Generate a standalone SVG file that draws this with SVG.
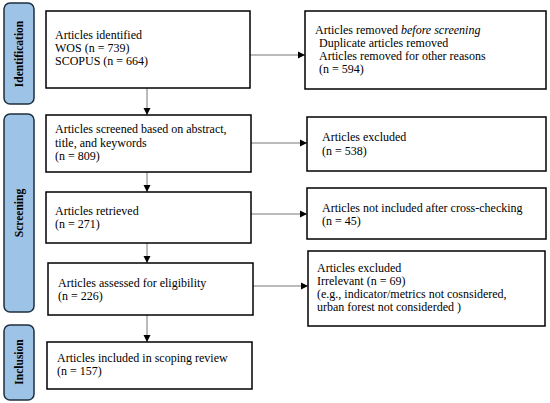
<svg xmlns="http://www.w3.org/2000/svg" width="550" height="403" viewBox="0 0 550 403">
<defs>
<style>
.box{fill:#fff;stroke:#000;stroke-width:1.5}
.side{fill:#9dc3e6;stroke:#1f2f3f;stroke-width:1.5}
.t{font-family:"Liberation Serif","DejaVu Serif",serif;font-size:12px;fill:#000}
.s{font-family:"Liberation Serif","DejaVu Serif",serif;font-size:11.5px;font-weight:bold;fill:#000}
.c{stroke:#777;stroke-width:1;fill:none;marker-end:url(#ah)}
</style>
<marker id="ah" markerWidth="8" markerHeight="8" refX="7" refY="4" orient="auto" markerUnits="userSpaceOnUse">
<path d="M0,0.5 L7,4 L0,7.5 Z" fill="#000"/>
</marker>
</defs>
<rect width="550" height="403" fill="#fff"/>
<g id="phase-identification">
<rect class="side" x="4" y="3" width="30" height="101" rx="6"/>
<text class="s" transform="translate(23,54) rotate(-90)" text-anchor="middle">Identification</text>
</g>
<g id="phase-screening">
<rect class="side" x="4" y="114" width="30" height="198" rx="6"/>
<text class="s" transform="translate(23,213) rotate(-90)" text-anchor="middle">Screening</text>
</g>
<g id="phase-inclusion">
<rect class="side" x="4" y="325" width="30" height="75" rx="6"/>
<text class="s" transform="translate(23,362) rotate(-90)" text-anchor="middle">Inclusion</text>
</g>
<g id="connectors">
<line class="c" x1="147" y1="88" x2="147" y2="115"/>
<line class="c" x1="147" y1="172" x2="147" y2="192"/>
<line class="c" x1="147" y1="243" x2="147" y2="263"/>
<line class="c" x1="147" y1="315" x2="147" y2="342"/>
<line class="c" x1="250" y1="55" x2="305" y2="55"/>
<line class="c" x1="251" y1="143" x2="307" y2="143"/>
<line class="c" x1="251" y1="214" x2="307" y2="214"/>
<line class="c" x1="253" y1="286" x2="308" y2="286"/>
</g>
<g id="identified">
<rect class="box" x="46" y="11" width="204" height="77"/>
<text class="t" x="55" y="39">Articles identified</text>
<text class="t" x="55" y="52">WOS (n = 739)</text>
<text class="t" x="55" y="65">SCOPUS (n = 664)</text>
</g>
<g id="removed">
<rect class="box" x="305" y="11" width="241" height="78"/>
<text class="t" x="315" y="34">Articles removed <tspan font-style="italic">before screening</tspan></text>
<text class="t" x="319" y="47">Duplicate articles removed</text>
<text class="t" x="319" y="60">Articles removed for other reasons</text>
<text class="t" x="319" y="73">(n = 594)</text>
</g>
<g id="screened">
<rect class="box" x="46" y="115" width="205" height="57"/>
<text class="t" x="55" y="133">Articles screened based on abstract,</text>
<text class="t" x="55" y="147">title, and keywords</text>
<text class="t" x="55" y="160">(n = 809)</text>
</g>
<g id="excluded1">
<rect class="box" x="307" y="117" width="239" height="54"/>
<text class="t" x="322" y="141">Articles excluded</text>
<text class="t" x="322" y="155">(n = 538)</text>
</g>
<g id="retrieved">
<rect class="box" x="46" y="192" width="205" height="51"/>
<text class="t" x="55" y="215">Articles retrieved</text>
<text class="t" x="55" y="228">(n = 271)</text>
</g>
<g id="not-included">
<rect class="box" x="307" y="188" width="239" height="51"/>
<text class="t" x="322" y="212">Articles not included after cross-checking</text>
<text class="t" x="322" y="225">(n = 45)</text>
</g>
<g id="assessed">
<rect class="box" x="48" y="263" width="205" height="52"/>
<text class="t" x="58" y="287">Articles assessed for eligibility</text>
<text class="t" x="58" y="300">(n = 226)</text>
</g>
<g id="excluded2">
<rect class="box" x="308" y="251" width="237" height="75"/>
<text class="t" x="317" y="272">Articles excluded</text>
<text class="t" x="317" y="285">Irrelevant (n = 69)</text>
<text class="t" x="317" y="298">(e.g., indicator/metrics not cosnsidered,</text>
<text class="t" x="317" y="311">urban forest not considerded )</text>
</g>
<g id="included">
<rect class="box" x="47" y="342" width="205" height="47"/>
<text class="t" x="57" y="362">Articles included in scoping review</text>
<text class="t" x="57" y="375">(n = 157)</text>
</g>
</svg>
